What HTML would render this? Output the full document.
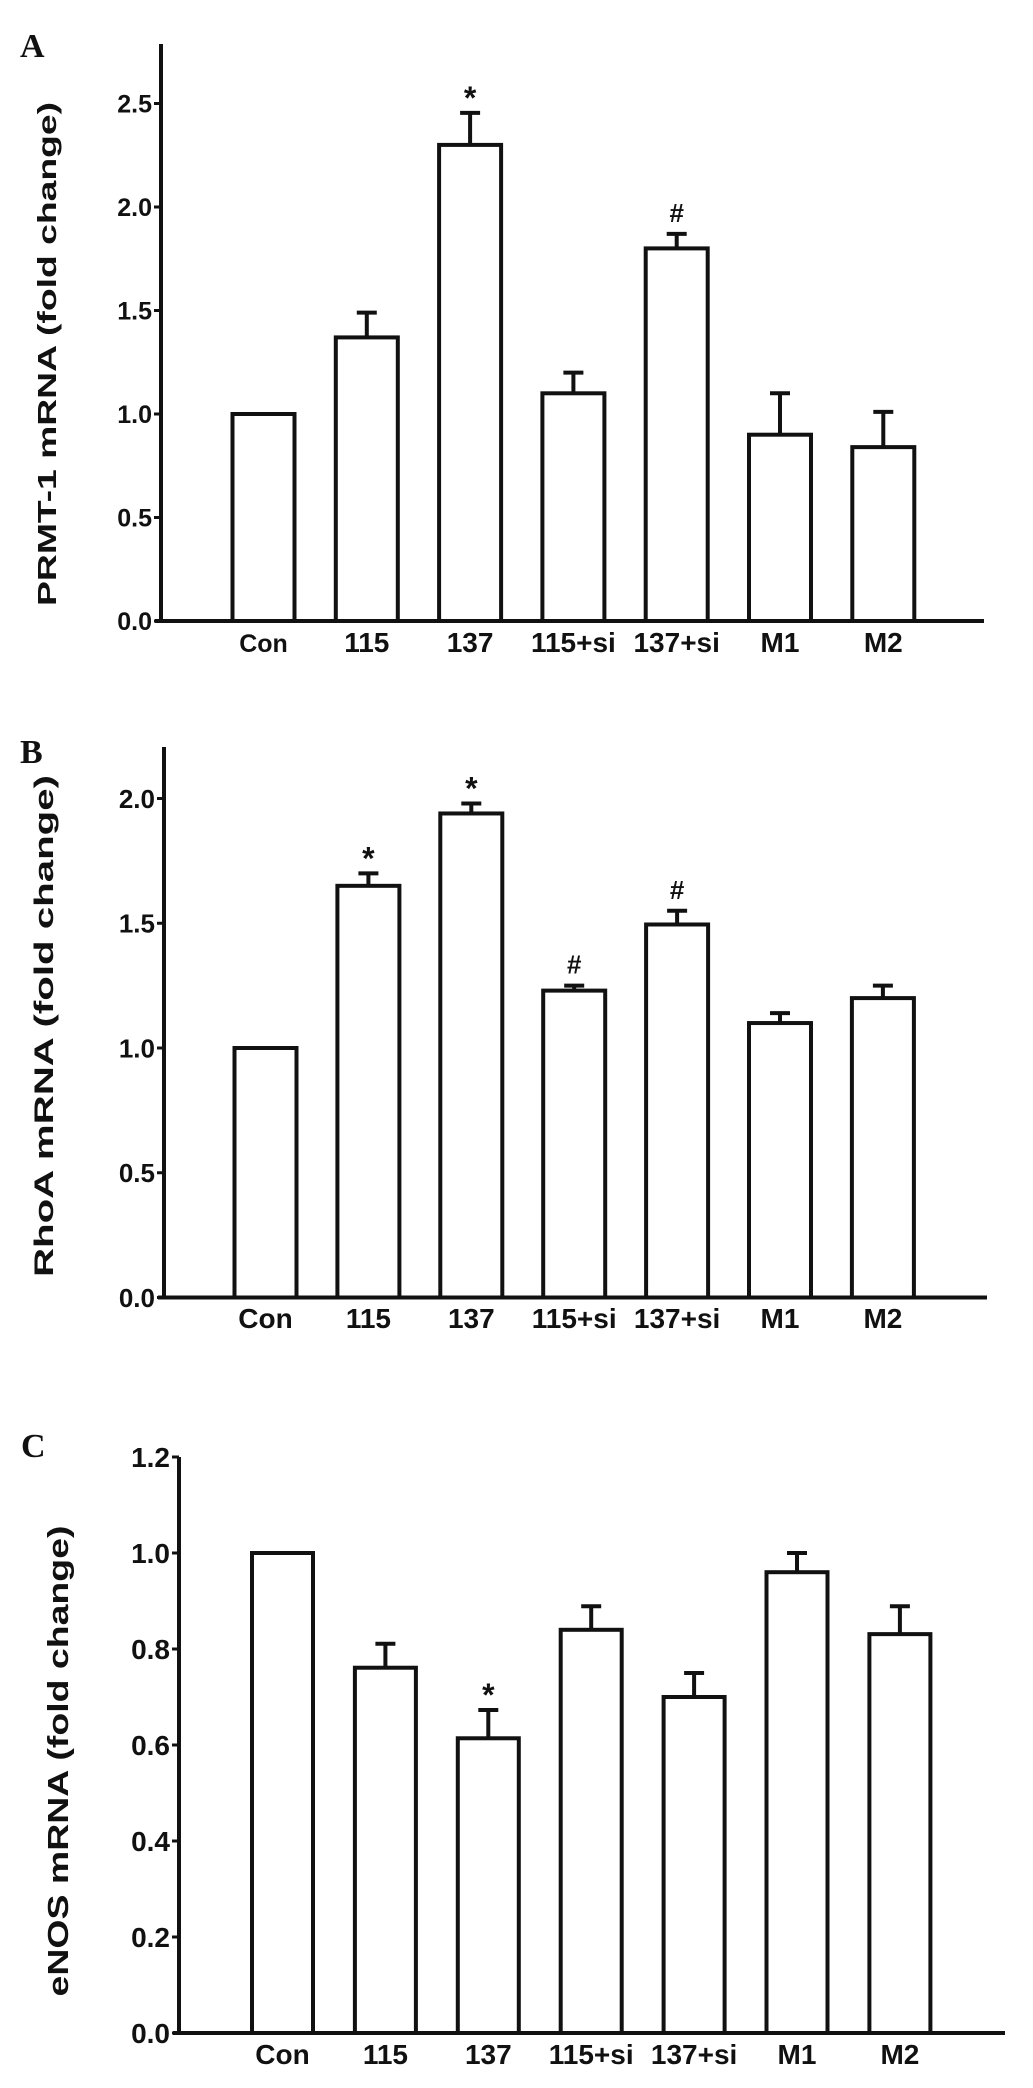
<!DOCTYPE html>
<html><head><meta charset="utf-8"><style>
body{margin:0;background:#fff;width:1033px;height:2083px;overflow:hidden}
svg text{font-family:"Liberation Sans",Arial,sans-serif;font-weight:bold;fill:#111}
</style></head><body>
<svg id="fig" width="1033" height="2083" viewBox="0 0 1033 2083"></svg>
<script>
const categories = ["Con","115","137","115+si","137+si","M1","M2"];
const valuesA = [1.0,1.37,2.30,1.10,1.80,0.90,0.84];
const errA = [0,0.12,0.155,0.10,0.07,0.20,0.17];
const marksA = ["","","*","","#","",""];
const ticksA = [0,0.5,1.0,1.5,2.0,2.5];
const valuesB = [1.0,1.65,1.94,1.23,1.495,1.10,1.20];
const errB = [0,0.05,0.04,0.02,0.055,0.04,0.05];
const marksB = ["","*","*","#","#","",""];
const ticksB = [0,0.5,1.0,1.5,2.0];
const valuesC = [1.0,0.761,0.614,0.840,0.700,0.960,0.831];
const errC = [0,0.05,0.059,0.049,0.05,0.04,0.058];
const marksC = ["","","*","","","",""];
const ticksC = [0,0.2,0.4,0.6,0.8,1.0,1.2];

const NS="http://www.w3.org/2000/svg";
const svg=document.getElementById('fig');
function mk(tag,attrs,parent){const e=document.createElementNS(NS,tag);for(const k in attrs)e.setAttribute(k,attrs[k]);(parent||svg).appendChild(e);return e;}

function panel(cfg,vals,errs,marks,ticks){
  const g=mk('g',{});
  
  
  const y=v=>cfg.y0-v*cfg.unit;
  const x=i=>cfg.x0+i*cfg.step;
  const L=mk('text',{x:cfg.lx,y:cfg.ly,'font-size':34,style:'font-family:"Liberation Serif",serif'},g);
  L.textContent=cfg.id;
  
  
  const ya=mk('line',{x1:cfg.ax,y1:cfg.top,x2:cfg.ax,y2:cfg.y0+2,stroke:'#111','stroke-width':4},g);
  
  
  const xa=mk('line',{x1:cfg.ax-6,y1:cfg.y0,x2:cfg.xend,y2:cfg.y0,stroke:'#111','stroke-width':4},g);
  
  
  ticks.forEach(t=>{
    const tl=mk('line',{x1:cfg.ax-7,y1:y(t),x2:cfg.ax,y2:y(t),stroke:'#111','stroke-width':3},g);
    
    
    const tt=mk('text',{x:cfg.ax-9,y:y(t)+cfg.tfs*0.36,'font-size':cfg.tfs,'text-anchor':'end'},g);
    tt.textContent=t.toFixed(1);
    
    
  });
  const yt=mk('text',{x:0,y:0,'font-size':cfg.yfs,'text-anchor':'middle',textLength:cfg.tlen,lengthAdjust:'spacingAndGlyphs',transform:`translate(${cfg.tx},${cfg.ty}) rotate(-90)`},g);
  yt.textContent=cfg.title;
  
  
  vals.forEach((v,i)=>{
    const cx=x(i);
    if(errs[i]>0){
      const el=mk('line',{x1:cx,y1:y(v),x2:cx,y2:y(v+errs[i]),stroke:'#111','stroke-width':4},g);
      
      
      const cap=mk('line',{x1:cx-10,y1:y(v+errs[i]),x2:cx+10,y2:y(v+errs[i]),stroke:'#111','stroke-width':4},g);
      
      
    }
    const r=mk('rect',{x:cx-cfg.bw/2,y:y(v),width:cfg.bw,height:v*cfg.unit,fill:'#fff',stroke:'#111','stroke-width':4},g);
    
    
    if(marks[i]){
      const m=mk('text',{x:cx,y:y(v+errs[i])-12+(marks[i]=='*'?8:0),'font-size':marks[i]=='*'?32:26,'text-anchor':'middle'},g);
      m.textContent=marks[i];
      
      
    }
    const cl=mk('text',{x:cx,y:cfg.lby,'font-size':(cfg.id=='A'&&i==0)?25:28,'text-anchor':'middle'},g);
    cl.textContent=categories[i];
    
    
  });
}
panel({id:'A',lx:20,ly:57,ax:161,top:44,y0:621,unit:207,x0:263.5,step:103.3,bw:62,xend:984,tx:56,ty:354,tlen:504,yfs:26,tfs:25,title:'PRMT-1 mRNA  (fold change)',lby:652},valuesA,errA,marksA,ticksA);
panel({id:'B',lx:20,ly:763,ax:164,top:747,y0:1297.5,unit:249.5,x0:265.5,step:102.9,bw:62,xend:987,tx:53,ty:1026,tlen:502,yfs:27,tfs:26,title:'RhoA  mRNA   (fold change)',lby:1328},valuesB,errB,marksB,ticksB);
panel({id:'C',lx:21,ly:1457,ax:179,top:1457,y0:2033,unit:480,x0:282.5,step:102.9,bw:61,xend:1005,tx:68,ty:1761,tlen:471,yfs:29,tfs:28,title:'eNOS  mRNA (fold change)',lby:2064},valuesC,errC,marksC,ticksC);
</script>
</body></html>
